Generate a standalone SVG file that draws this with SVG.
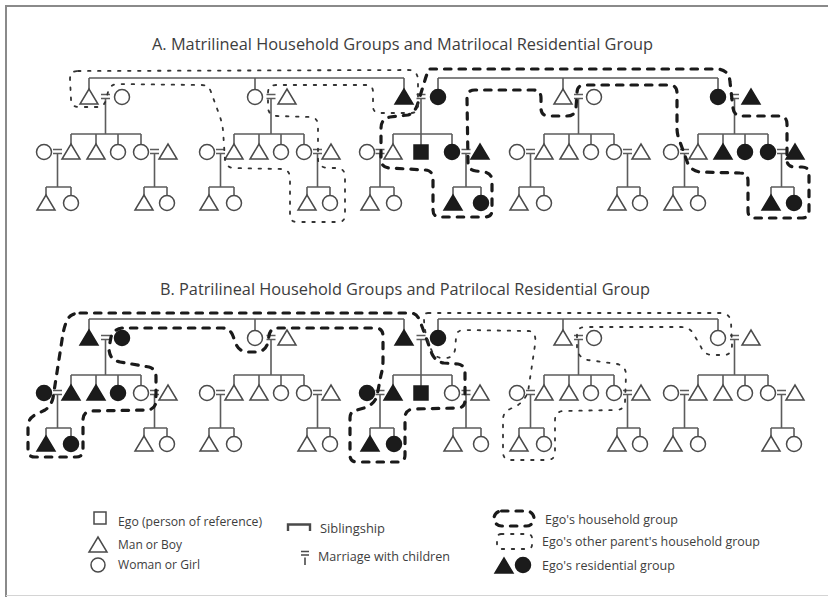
<svg xmlns="http://www.w3.org/2000/svg" xmlns:xlink="http://www.w3.org/1999/xlink" width="828" height="597" viewBox="0 0 828 597">
  <style>
    .o { fill: #fff; stroke: #4a4a4a; stroke-width: 1.5; }
    .f { fill: #1b1b1b; stroke: #1b1b1b; stroke-width: 1.5; }
    .kin { fill: none; stroke: #5c5c5c; stroke-width: 1.6; }
    .hh { fill: none; stroke: #1a1a1a; stroke-width: 3.2; stroke-dasharray: 6.5 8; stroke-linecap: round; stroke-linejoin: round; }
    .op { fill: none; stroke: #333; stroke-width: 1.8; stroke-dasharray: 2.5 7.5; stroke-linecap: round; stroke-linejoin: round; }
    .title { font-family: "Open Sans", "Liberation Sans", sans-serif; font-size: 15.5px; fill: #3d3d3d; }
    .leg { font-family: "Open Sans", "Liberation Sans", sans-serif; font-size: 12px; fill: #3d3d3d; }
  </style>
  <defs>
    <path id="t" d="M-9,7H9L0,-8Z"/>
    <circle id="c" r="7.5"/>
    <rect id="s" x="-7" y="-7" width="14" height="14"/>
    <!-- kin lines of one chart; the second chart reuses them 241px lower -->
    <path id="kin" class="kin" d="M89,78H404M89,78V89M255,78V89.5M404,78V89M438,78H718M438,78V89.5M563,78V89M718,78V89.5
      M101,94.5h9M101,98.5h9M105.5,98.5V134
      M266.5,94.5h9M266.5,98.5h9M271,98.5V134
      M416.5,94.5h9M416.5,98.5h9M421,98.5V134
      M574,94.5h9M574,98.5h9M578.5,98.5V134
      M730,94.5h9M730,98.5h9M734.5,98.5V134
      M71,134H141M71,134V144M96,134V144M118,134V144.5M141,134V144.5
      M234,134H304M234,134V144M259,134V144M281,134V144.5M304,134V144.5
      M393,134H452M393,134V144M421,134V145M452,134V144.5
      M544,134H614M544,134V144M569,134V144M591,134V144.5M614,134V144.5
      M698,134H768M698,134V144M723,134V144M745,134V144.5M768,134V144.5
      M53,149.5h9M53,153.5h9M57.5,153.5V187
      M150,149.5h9M150,153.5h9M154.5,153.5V187
      M216,149.5h9M216,153.5h9M220.5,153.5V187
      M313,149.5h9M313,153.5h9M317.5,153.5V187
      M375.5,149.5h9M375.5,153.5h9M380,153.5V187
      M461.5,149.5h9M461.5,153.5h9M466,153.5V187
      M526,149.5h9M526,153.5h9M530.5,153.5V187
      M623,149.5h9M623,153.5h9M627.5,153.5V187
      M680,149.5h9M680,153.5h9M684.5,153.5V187
      M777,149.5h9M777,153.5h9M781.5,153.5V187
      M46,187H71M46,187V195M71,187V195.5
      M144,187H167M144,187V195M167,187V195.5
      M209,187H234M209,187V195M234,187V195.5
      M307,187H330M307,187V195M330,187V195.5
      M370,187H394M370,187V195M394,187V195.5
      M453,187H481M453,187V195M481,187V195.5
      M519,187H544M519,187V195M544,187V195.5
      M617,187H640M617,187V195M640,187V195.5
      M673,187H698M673,187V195M698,187V195.5
      M771,187H794M771,187V195M794,187V195.5"/>
  </defs>

  <!-- frame -->
  <path d="M6,597V6H828" fill="none" stroke="#8a8a8a" stroke-width="2"/>
  <path d="M6,595.5H828" fill="none" stroke="#d4d4d4" stroke-width="1"/>

  <text class="title" x="152" y="50" textLength="501" lengthAdjust="spacingAndGlyphs">A. Matrilineal Household Groups and Matrilocal Residential Group</text>
  <text class="title" x="160" y="295" textLength="490" lengthAdjust="spacingAndGlyphs">B. Patrilineal Household Groups and Patrilocal Residential Group</text>

  <g id="connectors">
    <use href="#kin" xlink:href="#kin"/>
    <use href="#kin" xlink:href="#kin" y="241"/>
  </g>

  <!-- chart A: matrilineal -->
  <g id="chart-a">
    <g id="a01"><use href="#t" class="o" x="89" y="97"/></g>
    <g id="a02"><use href="#c" class="o" x="122" y="97"/></g>
    <g id="a03"><use href="#c" class="o" x="44" y="152"/></g>
    <g id="a04"><use href="#t" class="o" x="71" y="152"/></g>
    <g id="a05"><use href="#t" class="o" x="96" y="152"/></g>
    <g id="a06"><use href="#c" class="o" x="118" y="152"/></g>
    <g id="a07"><use href="#c" class="o" x="141" y="152"/></g>
    <g id="a08"><use href="#t" class="o" x="168" y="152"/></g>
    <g id="a09"><use href="#t" class="o" x="46" y="203"/></g>
    <g id="a10"><use href="#c" class="o" x="71" y="203"/></g>
    <g id="a11"><use href="#t" class="o" x="144" y="203"/></g>
    <g id="a12"><use href="#c" class="o" x="167" y="203"/></g>

    <g id="a13"><use href="#c" class="o" x="255" y="97"/></g>
    <g id="a14"><use href="#t" class="o" x="287" y="97"/></g>
    <g id="a15"><use href="#c" class="o" x="207" y="152"/></g>
    <g id="a16"><use href="#t" class="o" x="234" y="152"/></g>
    <g id="a17"><use href="#t" class="o" x="259" y="152"/></g>
    <g id="a18"><use href="#c" class="o" x="281" y="152"/></g>
    <g id="a19"><use href="#c" class="o" x="304" y="152"/></g>
    <g id="a20"><use href="#t" class="o" x="331" y="152"/></g>
    <g id="a21"><use href="#t" class="o" x="209" y="203"/></g>
    <g id="a22"><use href="#c" class="o" x="234" y="203"/></g>
    <g id="a23"><use href="#t" class="o" x="307" y="203"/></g>
    <g id="a24"><use href="#c" class="o" x="330" y="203"/></g>

    <g id="a25"><use href="#t" class="f" x="404" y="97"/></g>
    <g id="a26"><use href="#c" class="f" x="438" y="97"/></g>
    <g id="a27"><use href="#c" class="o" x="367" y="152"/></g>
    <g id="a28"><use href="#t" class="o" x="393" y="152"/></g>
    <g id="a-ego"><use href="#s" class="f" x="421" y="152"/></g>
    <g id="a29"><use href="#c" class="f" x="452" y="152"/></g>
    <g id="a30"><use href="#t" class="f" x="480" y="152"/></g>
    <g id="a31"><use href="#t" class="o" x="370" y="203"/></g>
    <g id="a32"><use href="#c" class="o" x="394" y="203"/></g>
    <g id="a33"><use href="#t" class="f" x="453" y="203"/></g>
    <g id="a34"><use href="#c" class="f" x="481" y="203"/></g>

    <g id="a35"><use href="#t" class="o" x="563" y="97"/></g>
    <g id="a36"><use href="#c" class="o" x="594" y="97"/></g>
    <g id="a37"><use href="#c" class="o" x="517" y="152"/></g>
    <g id="a38"><use href="#t" class="o" x="544" y="152"/></g>
    <g id="a39"><use href="#t" class="o" x="569" y="152"/></g>
    <g id="a40"><use href="#c" class="o" x="591" y="152"/></g>
    <g id="a41"><use href="#c" class="o" x="614" y="152"/></g>
    <g id="a42"><use href="#t" class="o" x="641" y="152"/></g>
    <g id="a43"><use href="#t" class="o" x="519" y="203"/></g>
    <g id="a44"><use href="#c" class="o" x="544" y="203"/></g>
    <g id="a45"><use href="#t" class="o" x="617" y="203"/></g>
    <g id="a46"><use href="#c" class="o" x="640" y="203"/></g>

    <g id="a47"><use href="#c" class="f" x="718" y="97"/></g>
    <g id="a48"><use href="#t" class="f" x="751" y="97"/></g>
    <g id="a49"><use href="#c" class="o" x="671" y="152"/></g>
    <g id="a50"><use href="#t" class="o" x="698" y="152"/></g>
    <g id="a51"><use href="#t" class="f" x="723" y="152"/></g>
    <g id="a52"><use href="#c" class="f" x="745" y="152"/></g>
    <g id="a53"><use href="#c" class="f" x="768" y="152"/></g>
    <g id="a54"><use href="#t" class="f" x="795" y="152"/></g>
    <g id="a55"><use href="#t" class="o" x="673" y="203"/></g>
    <g id="a56"><use href="#c" class="o" x="698" y="203"/></g>
    <g id="a57"><use href="#t" class="f" x="771" y="203"/></g>
    <g id="a58"><use href="#c" class="f" x="794" y="203"/></g>
  </g>

  <!-- chart B: patrilineal -->
  <g id="chart-b">
    <g id="b01"><use href="#t" class="f" x="89" y="338"/></g>
    <g id="b02"><use href="#c" class="f" x="122" y="338"/></g>
    <g id="b03"><use href="#c" class="f" x="44" y="393"/></g>
    <g id="b04"><use href="#t" class="f" x="71" y="393"/></g>
    <g id="b05"><use href="#t" class="f" x="96" y="393"/></g>
    <g id="b06"><use href="#c" class="f" x="118" y="393"/></g>
    <g id="b07"><use href="#c" class="o" x="141" y="393"/></g>
    <g id="b08"><use href="#t" class="o" x="168" y="393"/></g>
    <g id="b09"><use href="#t" class="f" x="46" y="444"/></g>
    <g id="b10"><use href="#c" class="f" x="71" y="444"/></g>
    <g id="b11"><use href="#t" class="o" x="144" y="444"/></g>
    <g id="b12"><use href="#c" class="o" x="167" y="444"/></g>

    <g id="b13"><use href="#c" class="o" x="255" y="338"/></g>
    <g id="b14"><use href="#t" class="o" x="287" y="338"/></g>
    <g id="b15"><use href="#c" class="o" x="207" y="393"/></g>
    <g id="b16"><use href="#t" class="o" x="234" y="393"/></g>
    <g id="b17"><use href="#t" class="o" x="259" y="393"/></g>
    <g id="b18"><use href="#c" class="o" x="281" y="393"/></g>
    <g id="b19"><use href="#c" class="o" x="304" y="393"/></g>
    <g id="b20"><use href="#t" class="o" x="331" y="393"/></g>
    <g id="b21"><use href="#t" class="o" x="209" y="444"/></g>
    <g id="b22"><use href="#c" class="o" x="234" y="444"/></g>
    <g id="b23"><use href="#t" class="o" x="307" y="444"/></g>
    <g id="b24"><use href="#c" class="o" x="330" y="444"/></g>

    <g id="b25"><use href="#t" class="f" x="404" y="338"/></g>
    <g id="b26"><use href="#c" class="f" x="438" y="338"/></g>
    <g id="b27"><use href="#c" class="f" x="367" y="393"/></g>
    <g id="b28"><use href="#t" class="f" x="393" y="393"/></g>
    <g id="b-ego"><use href="#s" class="f" x="421" y="393"/></g>
    <g id="b29"><use href="#c" class="o" x="452" y="393"/></g>
    <g id="b30"><use href="#t" class="o" x="480" y="393"/></g>
    <g id="b31"><use href="#t" class="f" x="370" y="444"/></g>
    <g id="b32"><use href="#c" class="f" x="394" y="444"/></g>
    <g id="b33"><use href="#t" class="o" x="453" y="444"/></g>
    <g id="b34"><use href="#c" class="o" x="481" y="444"/></g>

    <g id="b35"><use href="#t" class="o" x="563" y="338"/></g>
    <g id="b36"><use href="#c" class="o" x="594" y="338"/></g>
    <g id="b37"><use href="#c" class="o" x="517" y="393"/></g>
    <g id="b38"><use href="#t" class="o" x="544" y="393"/></g>
    <g id="b39"><use href="#t" class="o" x="569" y="393"/></g>
    <g id="b40"><use href="#c" class="o" x="591" y="393"/></g>
    <g id="b41"><use href="#c" class="o" x="614" y="393"/></g>
    <g id="b42"><use href="#t" class="o" x="641" y="393"/></g>
    <g id="b43"><use href="#t" class="o" x="519" y="444"/></g>
    <g id="b44"><use href="#c" class="o" x="544" y="444"/></g>
    <g id="b45"><use href="#t" class="o" x="617" y="444"/></g>
    <g id="b46"><use href="#c" class="o" x="640" y="444"/></g>

    <g id="b47"><use href="#c" class="o" x="718" y="338"/></g>
    <g id="b48"><use href="#t" class="o" x="751" y="338"/></g>
    <g id="b49"><use href="#c" class="o" x="671" y="393"/></g>
    <g id="b50"><use href="#t" class="o" x="698" y="393"/></g>
    <g id="b51"><use href="#t" class="o" x="723" y="393"/></g>
    <g id="b52"><use href="#c" class="o" x="745" y="393"/></g>
    <g id="b53"><use href="#c" class="o" x="768" y="393"/></g>
    <g id="b54"><use href="#t" class="o" x="795" y="393"/></g>
    <g id="b55"><use href="#t" class="o" x="673" y="444"/></g>
    <g id="b56"><use href="#c" class="o" x="698" y="444"/></g>
    <g id="b57"><use href="#t" class="o" x="771" y="444"/></g>
    <g id="b58"><use href="#c" class="o" x="794" y="444"/></g>
  </g>

  <!-- household group outlines -->
  <g id="household-groups">
    <path id="a-ego-household" class="hh" d="M430,69 L716,69 Q729,69 730,82 L733,108 Q734,116 742,116 L779,116 Q787,116 787,124 L787,160 Q787,167 795,167 L802,167 Q809,167 809,174 L809,211 Q809,218 802,218 L755,218 Q748,218 748,211 L748,181 Q748,173 740,173 L700,172 Q692,171 688,164 L680,142 Q677,135 677,128 L677,93 Q677,85 669,85 L585,85 Q577,85 577,93 L576,108 Q575,116 567,116 L549,116 Q541,116 541,108 L541,98 Q541,90 533,90 L475,90 Q467,90 467,98 L468,162 Q468,170 476,171 L484,172 Q492,173 492,181 L492,210 Q492,217 485,217 L440,217 Q433,217 433,210 L433,180 Q433,170 425,170 L389,168 Q381,167 381,159 L381,128 Q381,119 390,117 L408,115 Q414,113 417,106 L425,80 Q428,70 430,69 Z"/>
    <path id="a-other-household" class="op" d="M78,71 L408,70 Q417,70 418,79 L418,106 Q418,113 411,113 L380,113 Q373,113 373,106 L373,92 Q373,85 366,85 L276,85 Q268,85 268,93 L268,108 Q269,116 277,116 L311,117 Q318,118 318,126 L318,160 Q319,167 327,168 L338,168 Q345,169 345,177 L345,215 Q345,222 338,222 L297,222 Q290,222 290,215 L290,177 Q289,169 281,169 L233,168 Q226,167 225,160 L223,130 Q222,122 219,114 L211,92 Q209,85 201,85 L118,84 Q110,84 108,92 L106,100 Q104,107 97,107 L79,107 Q71,107 71,99 L70,79 Q70,71 78,71 Z"/>
    <path id="b-ego-household" class="hh" d="M80,313 L410,313 Q417,313 420,321 L432,354 Q436,362 444,363 L458,364 Q465,365 465,373 L465,400 Q465,408 457,408 L413,409 Q405,410 405,418 L405,455 Q405,462 398,462 L357,462 Q350,462 350,455 L350,418 Q350,411 357,410 L364,408 Q374,405 377,396 L381,375 Q383,368 383,360 L383,336 Q383,328 375,328 L276,328 Q270,329 269,336 L267,345 Q264,352 256,352 L246,352 Q239,351 236,344 L233,336 Q230,328 222,328 L122,328 Q114,329 111,337 L109,348 Q109,360 120,362 L149,367 Q156,369 156,377 L156,400 Q156,410 146,410 L91,411 Q83,412 83,420 L83,450 Q83,457 76,457 L35,457 Q28,457 28,450 L28,425 Q29,417 37,414 L45,410 Q51,406 53,398 L62,340 Q65,318 72,315 Q75,313 80,313 Z"/>
    <path id="b-other-household" class="op" d="M428,313 L722,313 Q730,314 731,322 L732,345 Q732,355 724,355 L711,355 Q704,354 701,347 L693,333 Q689,327 681,327 L585,327 Q577,327 577,335 L577,348 Q578,358 588,360 L617,364 Q626,366 626,375 L625,402 Q624,410 616,410 L563,411 Q555,412 555,420 L555,452 Q555,460 547,460 L511,460 Q503,460 503,452 L503,420 Q503,412 510,409 L518,405 Q525,400 528,392 L535,345 Q537,332 529,331 L464,330 Q456,330 456,338 L455,350 Q453,358 445,358 L441,358 Q434,357 431,349 L426,335 Q424,325 424,318 Q424,313 428,313 Z"/>
  </g>

  <!-- key -->
  <g id="legend">
    <g id="key-ego"><rect x="94" y="512" width="12" height="12" class="o"/><text class="leg" x="118" y="526" textLength="144" lengthAdjust="spacingAndGlyphs">Ego (person of reference)</text></g>
    <g id="key-man"><use href="#t" class="o" x="98" y="545"/><text class="leg" x="118" y="549" textLength="64" lengthAdjust="spacingAndGlyphs">Man or Boy</text></g>
    <g id="key-woman"><circle cx="98" cy="565" r="7" class="o"/><text class="leg" x="118" y="569" textLength="82" lengthAdjust="spacingAndGlyphs">Woman or Girl</text></g>
    <g id="key-sibling"><path d="M288,531V524.5H310V531" fill="none" stroke="#4a4a4a" stroke-width="2.4"/><text class="leg" x="320" y="533" textLength="65" lengthAdjust="spacingAndGlyphs">Siblingship</text></g>
    <g id="key-marriage"><path d="M301,551.5h8M301,555h8M305,557.5V565" fill="none" stroke="#4a4a4a" stroke-width="1.6"/><text class="leg" x="318" y="561" textLength="132" lengthAdjust="spacingAndGlyphs">Marriage with children</text></g>
    <g id="key-household"><rect x="494" y="511" width="40" height="15" rx="7.5" class="hh"/><text class="leg" x="545" y="524" textLength="133" lengthAdjust="spacingAndGlyphs">Ego's household group</text></g>
    <g id="key-other"><rect x="497" y="534" width="35" height="15" rx="4" class="op"/><text class="leg" x="542" y="546" textLength="218" lengthAdjust="spacingAndGlyphs">Ego's other parent's household group</text></g>
    <g id="key-residential"><use href="#t" class="f" x="504" y="566"/><circle cx="523" cy="565" r="7.5" class="f"/><text class="leg" x="542" y="570" textLength="133" lengthAdjust="spacingAndGlyphs">Ego's residential group</text></g>
  </g>
</svg>
